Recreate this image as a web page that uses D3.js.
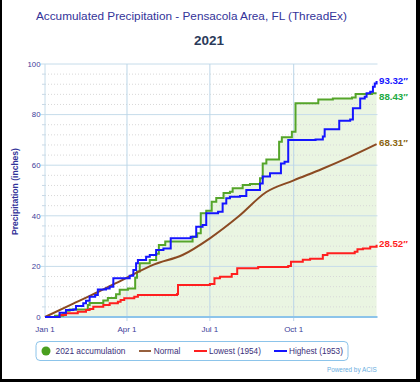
<!DOCTYPE html>
<html>
<head>
<meta charset="utf-8">
<script src="https://cdn.jsdelivr.net/npm/d3@7"></script>
<style>
  body { margin: 0; background: #fff; }
  svg { display: block; font-family: "Liberation Sans", Arial, sans-serif; }
</style>
</head>
<body>
<svg id="chart" width="420" height="382"></svg>
<script>
const svg = d3.select("#chart");

const width = 420;
const height = 382;

// day of year -> accumulated inches
const dayTicks = [0, 90, 181, 273];
const dayLabels = ["Jan 1", "Apr 1", "Jul 1", "Oct 1"];
const yTicks = [0, 20, 40, 60, 80, 100];

const obs2021 = [[0,0],[11,0.5],[20,1.5],[23,2.5],[27,3.0],[47,4.7],[49,5.5],[64,6.5],[69,7.5],
  [78,9.0],[82,10.8],[91,11.3],[99,15.5],[101,18],[104,21.2],[115,22.5],[122,25],[125,28.5],
  [132,29.8],[162,31.7],[167,33.1],[171,41],[177,42],[183,45.6],[188,47],[196,49],[203,49.5],
  [206,50.9],[217,52.2],[225,52.6],[236,54.8],[239,60.7],[243,62.3],[257,69.3],[260,71.0],
  [271,73.2],[275,84.5],[300,86.0],[316,86.4],[337,86.8],[341,88.1],[359,88.43],[364,88.43]];

const normal = [[0,0],[31,5.3],[59,10.0],[90,15.6],[120,20.8],[151,24.5],[181,31.1],[212,39.6],
  [243,49.4],[273,54.0],[304,58.5],[334,63.2],[364,68.31]];

const lowest = [[0,0],[16,0.8],[23,1.5],[36,2.1],[45,2.8],[49,3.2],[53,4.1],[64,4.7],[71,5.4],
  [80,6.0],[83,6.7],[87,7.4],[98,8.0],[102,8.7],[145,9.1],[146,12.6],[181,13.0],[186,15.3],
  [192,15.9],[205,17.0],[211,19.3],[234,19.8],[267,20.2],[270,21.8],[283,22.6],[291,23.0],
  [305,24.5],[310,25.2],[340,25.8],[343,26.8],[349,27.1],[357,27.8],[364,28.52]];

const highest = [[0,0],[16,1.7],[23,2.8],[31,3.0],[34,4.3],[42,5.4],[45,6.4],[49,8.0],[55,8.7],
  [58,10.9],[67,11.3],[71,12.0],[75,15.3],[93,16.3],[97,18.6],[100,21.2],[102,22.5],[111,23.8],
  [115,24.5],[122,26.5],[130,27.1],[138,31.1],[160,31.7],[166,35.7],[173,36.4],[177,41.0],
  [190,41.6],[195,44.9],[199,46.9],[203,47.5],[214,47.8],[221,50.2],[236,52.8],[239,55.5],
  [247,56.8],[259,60.7],[263,61.4],[267,70.0],[297,70.2],[305,71.3],[307,74.2],[323,77.6],
  [335,78.1],[338,82.5],[346,86.4],[351,87.1],[353,88.4],[357,89.0],[360,91.0],[362,92.3],[364,93.32]];

const endLabels = ["93.32\u2033", "88.43\u2033", "68.31\u2033", "28.52\u2033"];
const legendLabels = ["2021 accumulation", "Normal", "Lowest (1954)", "Highest (1953)"];

const x = d3.scaleLinear().domain([0, 365]).range([45, 377.5]);
const y = d3.scaleLinear().domain([0, 100]).range([317, 64]);

// shrink or grow a text to a given width
function fit(sel, w) {
  const size = +sel.attr("font-size");
  const len = sel.node().getComputedTextLength();
  sel.attr("font-size", size * w / len);
  return sel;
}

// frame
svg.append("rect").attr("x", 0).attr("y", 0).attr("width", 2).attr("height", height).attr("fill", "#000");
svg.append("rect").attr("x", 416).attr("y", 0).attr("width", 4).attr("height", height).attr("fill", "#000");
svg.append("rect").attr("x", 0).attr("y", 379).attr("width", width).attr("height", 3).attr("fill", "#000");

// titles
fit(svg.append("text").attr("x", 36).attr("y", 19.5)
  .attr("font-size", 12).attr("fill", "#333399")
  .text("Accumulated Precipitation - Pensacola Area, FL (ThreadEx)"), 311);
fit(svg.append("text").attr("x", 194).attr("y", 45)
  .attr("font-size", 13).attr("font-weight", "bold").attr("fill", "#2b3a5a")
  .text("2021"), 30);

// area under 2021
svg.append("path").datum(obs2021)
  .attr("fill", "#eaf5e2")
  .attr("d", d3.area().curve(d3.curveStepAfter).x(d => x(d[0])).y0(y(0)).y1(d => y(d[1])));

// minor grid
const minor = d3.range(0, 100, 4).filter(v => v % 20 !== 0);
svg.append("g").selectAll("line").data(minor).join("line")
  .attr("x1", 45).attr("x2", x(365)).attr("y1", d => y(d)).attr("y2", d => y(d))
  .attr("stroke", "#d8d8d8").attr("stroke-width", 1).attr("stroke-dasharray", "1,2");
svg.append("g").selectAll("line").data(minor).join("line")
  .attr("x1", 42).attr("x2", 45).attr("y1", d => y(d)).attr("y2", d => y(d))
  .attr("stroke", "#c8d8e6").attr("stroke-width", 1);

// major grid
svg.append("g").selectAll("line").data(yTicks.slice(1)).join("line")
  .attr("x1", 41).attr("x2", x(365)).attr("y1", d => y(d)).attr("y2", d => y(d))
  .attr("stroke", "#c6dcea").attr("stroke-width", 1);
svg.append("g").selectAll("line").data(dayTicks.slice(1)).join("line")
  .attr("x1", d => x(d)).attr("x2", d => x(d)).attr("y1", y(100)).attr("y2", y(0) + 4)
  .attr("stroke", "#bcd6e8").attr("stroke-width", 1);

// axes lines
svg.append("line").attr("x1", 45).attr("x2", 45).attr("y1", y(100)).attr("y2", y(0))
  .attr("stroke", "#c6dcea").attr("stroke-width", 1);
svg.append("line").attr("x1", 45).attr("x2", x(365)).attr("y1", y(0)).attr("y2", y(0))
  .attr("stroke", "#8cc4ea").attr("stroke-width", 2);

// tick labels
svg.append("g").selectAll("text").data(yTicks).join("text")
  .attr("x", 40.5).attr("y", d => y(d) + 2.7).attr("text-anchor", "end")
  .attr("font-size", 7.8).attr("fill", "#3d3d99").text(d => d);
svg.append("g").selectAll("text").data(dayTicks).join("text")
  .attr("x", d => x(d)).attr("y", 331.5).attr("text-anchor", "middle")
  .attr("font-size", 8).attr("fill", "#3d3d99").text((d, i) => dayLabels[i]);

fit(svg.append("text").attr("transform", "translate(17.5,191.5) rotate(-90)")
  .attr("text-anchor", "middle").attr("font-size", 8).attr("font-weight", "bold")
  .attr("fill", "#333399").text("Precipitation (inches)"), 87);

// series
const step = d3.line().curve(d3.curveStepAfter).x(d => x(d[0])).y(d => y(d[1]));
const smooth = d3.line().curve(d3.curveMonotoneX).x(d => x(d[0])).y(d => y(d[1]));

svg.append("path").datum(obs2021).attr("fill", "none").attr("stroke", "#55a52a").attr("stroke-width", 2).attr("d", step);
svg.append("path").datum(normal).attr("fill", "none").attr("stroke", "#8b4a22").attr("stroke-width", 2).attr("d", smooth);
svg.append("path").datum(lowest).attr("fill", "none").attr("stroke", "#ff1f1f").attr("stroke-width", 2).attr("d", step);
svg.append("path").datum(highest).attr("fill", "none").attr("stroke", "#1515ff").attr("stroke-width", 2).attr("d", step);

// end labels
const ends = [highest, obs2021, normal, lowest];
const endColors = ["#1515ff", "#22aa44", "#8b6410", "#ff1f1f"];
const endY = [80.5, 96, 142, 243];
svg.append("g").selectAll("text").data(ends).join("text")
  .attr("x", 379).attr("y", (d, i) => endY[i] + 3.5)
  .attr("font-size", 9.7).attr("font-weight", "bold")
  .attr("fill", (d, i) => endColors[i]).text((d, i) => endLabels[i]);

// legend
const lg = svg.append("g");
lg.append("rect").attr("x", 36).attr("y", 341.5).attr("width", 312).attr("height", 19)
  .attr("rx", 4).attr("fill", "#fff").attr("stroke", "#8cc4ea").attr("stroke-width", 1);
lg.append("circle").attr("cx", 46).attr("cy", 351).attr("r", 4.5).attr("fill", "#4a9f1f");
lg.append("line").attr("x1", 139).attr("x2", 151).attr("y1", 351).attr("y2", 351).attr("stroke", "#96603e").attr("stroke-width", 2);
lg.append("line").attr("x1", 194).attr("x2", 207).attr("y1", 351).attr("y2", 351).attr("stroke", "#ff1f1f").attr("stroke-width", 2);
lg.append("line").attr("x1", 274).attr("x2", 287).attr("y1", 351).attr("y2", 351).attr("stroke", "#1515ff").attr("stroke-width", 2);
const legX = [55.5, 153.7, 209, 289];
const legW = [70, 26.7, 52, 54];
legendLabels.forEach((t, i) => {
  fit(lg.append("text").attr("x", legX[i]).attr("y", 354).attr("font-size", 9)
    .attr("fill", "#3a2f7a").text(t), legW[i]);
});

fit(svg.append("text").attr("x", 327).attr("y", 371.5)
  .attr("font-size", 7).attr("fill", "#6aaee0").text("Powered by ACIS"), 50);
</script>
</body>
</html>
